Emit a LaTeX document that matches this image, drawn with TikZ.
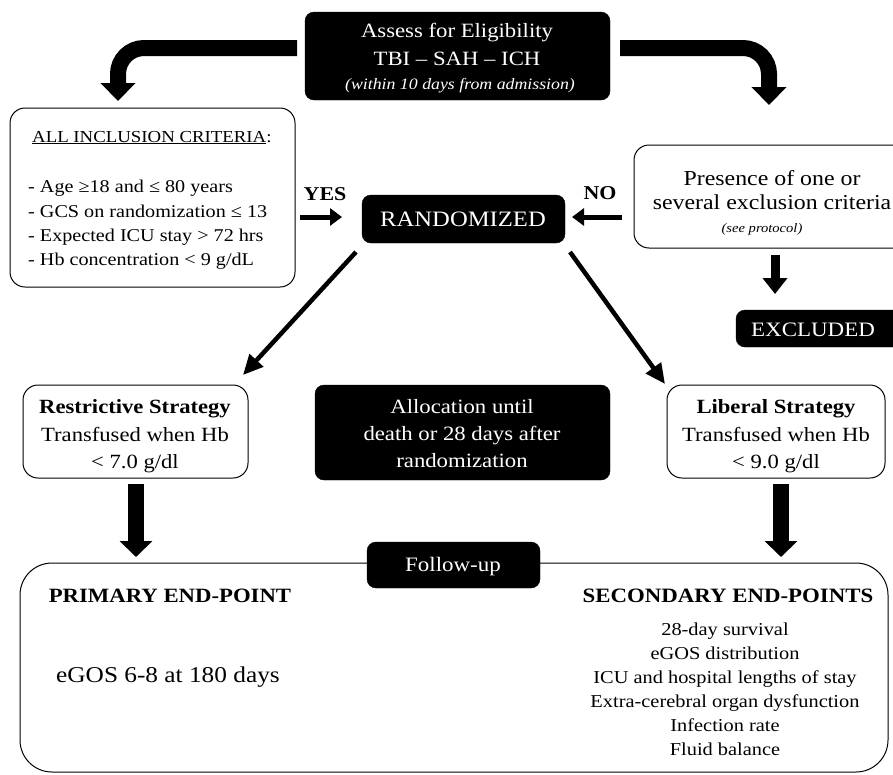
\documentclass[tikz,border=0pt]{standalone}
\usepackage{fontspec}
\setmainfont{Liberation Serif}[FakeStretch=1.12]
\usetikzlibrary{arrows.meta}
\begin{document}
\begin{tikzpicture}[x=1pt,y=-1pt,
  blackbox/.style={draw=black,fill=black,rounded corners=9pt},
  whitebox/.style={draw=black,line width=1pt,fill=white,rounded corners=15pt},
  bigarrow/.style={line width=16pt,rounded corners=26pt,-{Triangle[width=34pt,length=18pt]}},
  medarrow/.style={line width=5pt,-{Triangle[width=17pt,length=12pt]}},
  downarrow/.style={line width=9pt,-{Triangle[width=24pt,length=16pt]}},
  diagarrow/.style={line width=4.5pt,-{Triangle[width=18pt,length=20pt]}},
  vertarrow/.style={line width=16pt,-{Triangle[width=32pt,length=16pt]}},
  txt/.style={inner sep=0pt,anchor=base},
  wtxt/.style={txt,text=white},
  fs/.style={font=\fontsize{#1}{#1}\selectfont},
  fsb/.style={font=\fontsize{#1}{#1}\selectfont\bfseries},
  fsi/.style={font=\fontsize{#1}{#1}\selectfont\itshape}]
\useasboundingbox (0,0) rectangle (893,774);
\fill[white] (0,0) rectangle (893,774);

% top box
\draw[blackbox] (305,12) rectangle (610,100);
\node[wtxt,fs=20.3] (t1) at (457,37) {Assess for Eligibility};
\node[wtxt,fs=20.3] (t2) at (457,65) {TBI -- SAH -- ICH};
\node[wtxt,fsi=15.9] (t3) at (460,89) {(within 10 days from admission)};

% bent arrows
\coordinate (la) at (297,48);
\coordinate (lc) at (118,48);
\coordinate (lt) at (118,101);
\draw[bigarrow] (la) -- (lc) -- (lt);
\coordinate (ra) at (620,48);
\coordinate (rc) at (769,48);
\coordinate (rt) at (769,105);
\draw[bigarrow] (ra) -- (rc) -- (rt);

% inclusion box
\draw[whitebox] (10,108) rectangle (295,287);
\node[txt,anchor=base west,fs=16.8] (inh) at (32,142) {\underline{ALL INCLUSION CRITERIA}:};
\node[txt,anchor=base west,fs=18] (in1) at (28,192) {- Age ≥18 and ≤ 80 years};
\node[txt,anchor=base west,fs=18] (in2) at (28,217) {- GCS on randomization ≤ 13};
\node[txt,anchor=base west,fs=18] (in3) at (28,241) {- Expected ICU stay > 72 hrs};
\node[txt,anchor=base west,fs=18] (in4) at (28,265) {- Hb concentration < 9 g/dL};

% randomized
\draw[blackbox] (362,195) rectangle (565,243);
\node[wtxt,fs=22] (rand) at (463,226) {RANDOMIZED};
\node[txt,fsb=19.6] (yes) at (325,200) {YES};
\coordinate (ys) at (300,217);
\coordinate (ye) at (342,217);
\draw[medarrow] (ys) -- (ye);
\node[txt,fsb=19.6] (no) at (600,199) {NO};
\coordinate (ns) at (622,217);
\coordinate (ne) at (572,217);
\draw[medarrow] (ns) -- (ne);

% exclusion
\draw[whitebox] (634,145) rectangle (915,248);
\node[txt,fs=21.3] (ex1) at (772,185) {Presence of one or};
\node[txt,fs=21.3] (ex2) at (772,209) {several exclusion criteria};
\node[txt,fsi=13] (ex3) at (762,232) {(see protocol)};
\coordinate (es) at (775,255);
\coordinate (ee) at (775,294);
\draw[downarrow] (es) -- (ee);
\draw[blackbox] (736,310) rectangle (905,347);
\node[wtxt,fs=20.5] (excl) at (813,336) {EXCLUDED};

% diagonals
\coordinate (d1s) at (356,252);
\coordinate (d1e) at (243,375);
\draw[diagarrow] (d1s) -- (d1e);
\coordinate (d2s) at (570,252);
\coordinate (d2e) at (665,384);
\draw[diagarrow] (d2s) -- (d2e);

% strategy boxes
\draw[whitebox] (23,385) rectangle (248,478);
\node[txt,fsb=20.2] (r1) at (135,413) {Restrictive Strategy};
\node[txt,fs=20.2] (r2) at (135,441) {Transfused when Hb};
\node[txt,fs=20.2] (r3) at (135,468) {< 7.0 g/dl};
\draw[whitebox] (667,385) rectangle (885,478);
\node[txt,fsb=20.2] (l1) at (776,413) {Liberal Strategy};
\node[txt,fs=20.2] (l2) at (776,441) {Transfused when Hb};
\node[txt,fs=20.2] (l3) at (776,468) {< 9.0 g/dl};
\draw[blackbox] (315,385) rectangle (610,480);
\node[wtxt,fs=20.3] (a1) at (462,413) {Allocation until};
\node[wtxt,fs=20.3] (a2) at (462,440) {death or 28 days after};
\node[wtxt,fs=20.3] (a3) at (462,467) {randomization};

% vertical arrows
\coordinate (v1s) at (136,484);
\coordinate (v1e) at (136,557);
\draw[vertarrow] (v1s) -- (v1e);
\coordinate (v2s) at (781,484);
\coordinate (v2e) at (781,557);
\draw[vertarrow] (v2s) -- (v2e);

% bottom box
\draw[whitebox,rounded corners=32pt] (20,563) rectangle (888,772);
\draw[blackbox] (367,542) rectangle (540,588);
\node[wtxt,fs=20.5] (fu) at (453,571) {Follow-up};
\node[txt,fsb=20.3] (prim) at (170,602) {PRIMARY END-POINT};
\node[txt,fs=22.6] (egos) at (168,682) {eGOS 6-8 at 180 days};
\node[txt,fsb=20.4] (sec) at (728,602) {SECONDARY END-POINTS};
\node[txt,fs=18.2] (s1) at (725,635) {28-day survival};
\node[txt,fs=18.2] (s2) at (725,659) {eGOS distribution};
\node[txt,fs=18.2] (s3) at (725,683) {ICU and hospital lengths of stay};
\node[txt,fs=18.2] (s4) at (725,707) {Extra-cerebral organ dysfunction};
\node[txt,fs=18.2] (s5) at (725,731) {Infection rate};
\node[txt,fs=18.2] (s6) at (725,755) {Fluid balance};
\end{tikzpicture}
\end{document}
